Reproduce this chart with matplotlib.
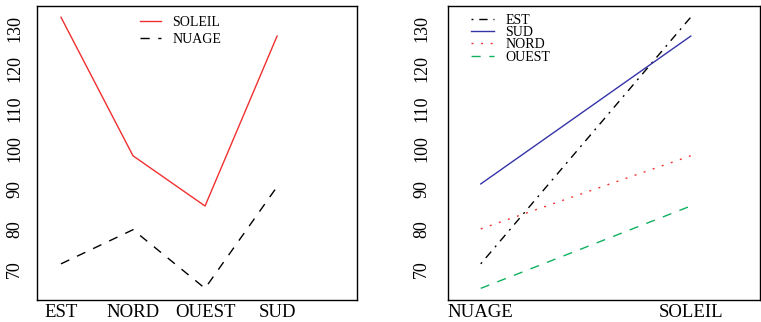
import matplotlib
matplotlib.use("Agg")
import matplotlib.pyplot as plt

plt.rcParams['font.family'] = ['Liberation Serif', 'DejaVu Serif']

orient = ["EST", "NORD", "OUEST", "SUD"]
meteo = ["NUAGE", "SOLEIL"]
soleil = [132.7, 98.2, 85.7, 128.0]
nuage = [71.3, 79.8, 65.2, 90.5]
yticks = [70, 80, 90, 100, 110, 120, 130]

# right panel series: (NUAGE, SOLEIL)
est = [71.3, 132.7]
sud = [91.2, 128.0]
nord = [80.0, 98.2]
ouest = [65.2, 85.7]

fig = plt.figure(figsize=(7.61, 3.22), dpi=100)

ylim = (62.3, 135.5)
lw = 1.0
dashed = (0, (6.6, 6.2))
dotted = (0, (1.4, 5.5))
dotdash = (0, (1.4, 4.2, 6.0, 4.2))

# Left panel
ax1 = fig.add_axes([37/761, 1-300/322, (357-37)/761, (300-6)/322])
x1 = list(range(1, len(orient)+1))
ax1.plot(x1, soleil, color='#f03030', lw=lw, ls='-', label='SOLEIL')
ax1.plot(x1, nuage, color='black', lw=lw, ls=dashed, label='NUAGE')
ax1.set_xlim(0.667, 5.11)
ax1.set_ylim(*ylim)
ax1.set_xticks(x1)
ax1.set_xticklabels(orient, fontsize=13.5)
ax1.set_yticks(yticks)
ax1.set_yticklabels([str(v) for v in yticks], fontsize=13, rotation=90, va='center')
ax1.tick_params(axis='x', length=0, pad=3)
ax1.tick_params(axis='y', length=0, pad=10)
leg1 = ax1.legend(loc='upper left', bbox_to_anchor=(0.29, 1.0), frameon=False,
                  fontsize=10, handlelength=1.55, handletextpad=0.8,
                  labelspacing=0.3, borderaxespad=0.3)

# Right panel
ax2 = fig.add_axes([448/761, 1-300/322, (760-448)/761, (300-6)/322])
x2 = list(range(1, len(meteo)+1))
ax2.plot(x2, est, color='black', lw=lw, ls=dotdash, label='EST')
ax2.plot(x2, sud, color='#3434a8', lw=lw, ls='-', label='SUD')
ax2.plot(x2, nord, color='#f03030', lw=lw, ls=dotted, label='NORD')
ax2.plot(x2, ouest, color='#10b060', lw=lw, ls=dashed, label='OUEST')
ax2.set_xlim(0.844, 2.33)
ax2.set_ylim(*ylim)
ax2.set_xticks(x2)
ax2.set_xticklabels(meteo, fontsize=13.5)
ax2.set_yticks(yticks)
ax2.set_yticklabels([str(v) for v in yticks], fontsize=13, rotation=90, va='center')
ax2.tick_params(axis='x', length=0, pad=3)
ax2.tick_params(axis='y', length=0, pad=13)
leg2 = ax2.legend(loc='upper left', bbox_to_anchor=(0.05, 1.0), frameon=False,
                  fontsize=10, handlelength=1.65, handletextpad=0.8,
                  labelspacing=-0.05, borderaxespad=0.15)

for ax in (ax1, ax2):
    for s in ax.spines.values():
        s.set_linewidth(1.0)

fig.savefig("out.png", dpi=100)
